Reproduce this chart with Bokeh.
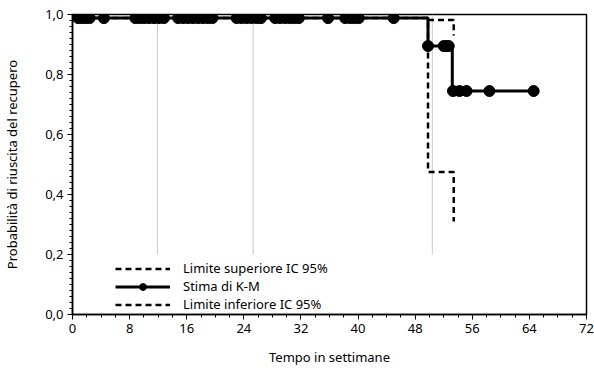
from bokeh.plotting import figure
from bokeh.models import Range1d, FixedTicker, Legend, LegendItem
from bokeh.embed import file_html
from bokeh.resources import INLINE

# Kaplan-Meier estimate (step after)
km_t = [0, 49.8, 53.2, 64.6]
km_s = [0.988, 0.895, 0.745, 0.745]

# censored observations
cens_top_t = [0.8, 1.3, 1.9, 2.4, 4.4,
              8.8, 9.4, 10.0, 10.7, 11.4, 12.1, 12.8,
              14.8, 15.5, 16.2, 16.9, 17.6, 18.3, 19.0, 19.6,
              23.0, 23.7, 24.4, 25.1, 25.8, 26.4,
              28.4, 29.1, 29.8, 30.5, 31.1, 31.7,
              35.8, 38.2, 38.9, 39.5, 40.1, 45.0]
cens_mid_t = [49.8, 52.0, 52.4, 52.7]
cens_low_t = [53.3, 54.2, 55.2, 58.4, 64.6]

# 95% CI limits
ci_up_t = [49.8, 53.4]
ci_up_s = [0.982, 0.93]
ci_lo_t = [0, 49.8, 53.4]
ci_lo_s = [0.988, 0.475, 0.31]

# faint vertical reference lines
ref_x = [11.9, 25.3, 50.4]
ref_y0 = 0.2
ref_y1 = 1.0

x_ticks = [0, 8, 16, 24, 32, 40, 48, 56, 64, 72]
y_ticks = [0.0, 0.2, 0.4, 0.6, 0.8, 1.0]
y_labels = ["0,0", "0,2", "0,4", "0,6", "0,8", "1,0"]

FONT = "Noto Sans"

p = figure(frame_width=514, frame_height=300, output_backend="svg", toolbar_location=None,
           x_range=Range1d(0, 72), y_range=Range1d(0, 1.0),
           min_border_left=70, min_border_right=8, min_border_top=14, min_border_bottom=40)
p.xgrid.visible = False
p.ygrid.visible = False
p.outline_line_color = "black"
p.outline_line_width = 1.5
p.background_fill_color = "white"
p.border_fill_color = "white"

# reference lines
p.segment(x0=ref_x, y0=[ref_y0] * len(ref_x), x1=ref_x, y1=[ref_y1] * len(ref_x),
          line_color="#c8c8c8", line_width=1)

# CI
r_up = p.step(ci_up_t, ci_up_s, mode="after", line_color="black", line_width=2.5,
              line_dash="6 4")
r_lo = p.step(ci_lo_t, ci_lo_s, mode="after", line_color="black", line_width=2.5,
              line_dash="6 4")

# KM
r_km = p.step(km_t, km_s, mode="after", line_color="black", line_width=3)
r_c1 = p.scatter(cens_top_t, [km_s[0]] * len(cens_top_t), size=11, color="black")
p.scatter(cens_mid_t, [km_s[1]] * len(cens_mid_t), size=11, color="black")
p.scatter(cens_low_t, [km_s[2]] * len(cens_low_t), size=11, color="black")

# axes
p.xaxis.ticker = FixedTicker(ticks=x_ticks, minor_ticks=[i * 2 for i in range(37)])
p.yaxis.ticker = FixedTicker(ticks=y_ticks, minor_ticks=[i * 0.02 for i in range(51)])
p.yaxis.major_label_overrides = {t: l for t, l in zip(y_ticks, y_labels)}
for ax in (p.xaxis[0], p.yaxis[0]):
    ax.axis_line_color = "black"
    ax.axis_line_width = 1.5
    ax.major_tick_line_color = "black"
    ax.minor_tick_line_color = "black"
    ax.major_tick_in = 0
    ax.major_tick_out = 5
    ax.minor_tick_in = 0
    ax.minor_tick_out = 3
    ax.major_label_text_font = FONT
    ax.major_label_text_font_size = "13px"
    ax.major_label_text_color = "black"
    ax.axis_label_text_font = FONT
    ax.axis_label_text_font_size = "13px"
    ax.axis_label_text_font_style = "normal"
    ax.axis_label_text_color = "black"
p.xaxis.axis_label = "Tempo in settimane"
p.yaxis.axis_label = "Probabilità di riuscita del recupero"
p.xaxis.major_label_standoff = 4
p.yaxis.major_label_standoff = 4
p.xaxis.axis_label_standoff = 12
p.yaxis.axis_label_standoff = 21

legend = Legend(items=[
    LegendItem(label="Limite superiore IC 95%", renderers=[r_up]),
    LegendItem(label="Stima di K-M", renderers=[r_km, r_c1]),
    LegendItem(label="Limite inferiore IC 95%", renderers=[r_lo]),
], location=(43, 1))
legend.padding = 0
legend.margin = 0
legend.spacing = 0
legend.glyph_width = 55
legend.glyph_height = 17
legend.label_height = 17
legend.label_standoff = 13
legend.label_text_font = FONT
legend.label_text_font_size = "13px"
legend.label_text_color = "black"
legend.border_line_color = None
legend.background_fill_alpha = 0
p.add_layout(legend)

open("out.html", "w").write(file_html(p, INLINE))
